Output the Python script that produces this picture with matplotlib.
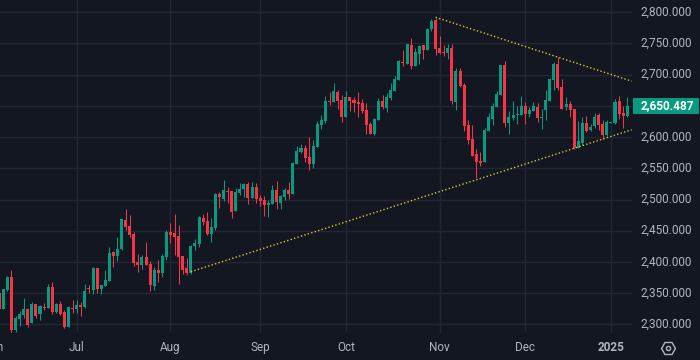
import numpy as np
import matplotlib
matplotlib.use("Agg")
import matplotlib.pyplot as plt
from matplotlib.lines import Line2D
from matplotlib.patches import Rectangle
from matplotlib.transforms import ScaledTranslation

opens = [2350.0, 2324.8, 2354.8, 2376.2, 2291.0, 2308.7, 2315.1, 2324.8, 2302.3, 2332.8,
         2316.7, 2328.0, 2326.4, 2360.1, 2319.9, 2332.8, 2319.9, 2295.8, 2326.4, 2324.8,
         2331.2, 2328.0, 2356.9, 2355.3, 2390.7, 2356.9, 2361.8, 2369.8, 2416.4, 2410.0,
         2421.2, 2467.9, 2458.2, 2445.4, 2400.3, 2395.5, 2408.4, 2397.1, 2361.8, 2387.5,
         2382.7, 2408.4, 2448.6, 2447.0, 2442.2, 2410.0, 2390.7, 2382.7, 2426.1, 2429.3,
         2471.1, 2466.3, 2445.4, 2455.0, 2508.1, 2501.6, 2512.9, 2512.9, 2481.9, 2510.3,
         2517.3, 2525.3, 2502.8, 2520.5, 2502.8, 2499.6, 2491.5, 2493.1, 2515.7, 2494.8,
         2504.4, 2515.7, 2509.2, 2557.5, 2576.8, 2583.2, 2568.7, 2557.5, 2584.8, 2620.2,
         2626.6, 2657.2, 2655.6, 2671.6, 2658.8, 2633.0, 2663.6, 2658.8, 2655.6, 2653.9,
         2642.7, 2621.8, 2605.7, 2628.2, 2657.2, 2645.9, 2662.0, 2673.2, 2690.9, 2720.1,
         2716.9, 2747.4, 2713.7, 2733.0, 2747.4, 2739.4, 2773.2, 2787.6, 2742.6, 2736.2,
         2734.6, 2742.6, 2655.8, 2705.6, 2683.1, 2618.8, 2596.3, 2572.2, 2562.5, 2560.9,
         2609.2, 2628.4, 2647.7, 2667.0, 2715.3, 2622.0, 2630.1, 2634.9, 2634.9, 2649.4,
         2636.5, 2641.3, 2647.7, 2630.6, 2642.9, 2657.4, 2691.2, 2716.9, 2679.9, 2647.7,
         2652.6, 2644.5, 2581.8, 2589.9, 2622.0, 2610.8, 2617.2, 2634.9, 2620.4, 2602.7,
         2622.0, 2622.0, 2657.4, 2638.1, 2633.3]
highs = [2352.6, 2356.9, 2377.8, 2387.5, 2313.5, 2321.6, 2342.5, 2326.4, 2336.0, 2332.8,
         2331.2, 2334.4, 2365.0, 2368.2, 2334.4, 2337.6, 2323.2, 2329.6, 2339.2, 2339.2,
         2336.0, 2365.0, 2363.4, 2392.3, 2390.7, 2363.4, 2387.5, 2424.5, 2418.0, 2440.5,
         2469.5, 2484.0, 2475.9, 2448.6, 2413.2, 2411.6, 2432.5, 2402.0, 2392.3, 2403.6,
         2413.2, 2451.8, 2463.1, 2477.5, 2459.8, 2410.0, 2406.8, 2427.7, 2437.3, 2474.3,
         2477.5, 2480.7, 2471.1, 2509.7, 2511.3, 2531.7, 2520.5, 2514.1, 2518.9, 2526.9,
         2526.9, 2528.5, 2528.5, 2526.9, 2507.6, 2506.0, 2499.6, 2523.7, 2530.1, 2507.6,
         2518.9, 2528.5, 2560.7, 2586.4, 2589.6, 2588.0, 2600.9, 2596.1, 2626.6, 2634.7,
         2665.2, 2671.6, 2686.1, 2674.9, 2666.8, 2673.2, 2663.6, 2663.6, 2671.6, 2660.4,
         2653.9, 2625.0, 2631.4, 2662.0, 2666.8, 2670.0, 2686.1, 2697.4, 2723.1, 2739.4,
         2749.0, 2758.7, 2742.6, 2747.4, 2747.4, 2774.8, 2789.2, 2790.9, 2761.9, 2747.4,
         2749.0, 2749.0, 2710.5, 2710.5, 2686.3, 2626.8, 2618.8, 2580.2, 2575.4, 2614.0,
         2638.1, 2654.2, 2673.5, 2715.3, 2721.7, 2641.3, 2657.4, 2649.4, 2665.4, 2655.8,
         2647.7, 2655.8, 2654.2, 2644.5, 2675.1, 2694.4, 2720.1, 2728.1, 2692.8, 2663.8,
         2657.4, 2644.5, 2625.2, 2631.7, 2633.3, 2620.4, 2638.1, 2638.1, 2626.8, 2626.8,
         2623.6, 2660.6, 2665.4, 2649.4, 2663.8]
lows = [2324.8, 2324.8, 2353.7, 2286.7, 2288.3, 2297.4, 2310.3, 2295.8, 2302.3, 2310.3,
        2307.1, 2323.2, 2326.4, 2316.7, 2318.3, 2315.1, 2294.2, 2295.8, 2318.3, 2318.3,
        2313.5, 2326.4, 2350.5, 2348.9, 2350.5, 2348.9, 2361.8, 2369.8, 2392.3, 2402.0,
        2419.6, 2451.8, 2440.5, 2393.9, 2384.3, 2389.1, 2395.5, 2353.7, 2355.3, 2368.2,
        2376.2, 2403.6, 2430.9, 2411.6, 2365.0, 2381.0, 2379.4, 2381.0, 2419.6, 2424.5,
        2459.8, 2443.8, 2432.5, 2451.8, 2485.6, 2498.0, 2494.8, 2470.6, 2481.9, 2507.6,
        2504.4, 2493.1, 2502.8, 2494.8, 2489.9, 2473.9, 2472.2, 2493.1, 2485.1, 2485.1,
        2499.6, 2501.2, 2509.2, 2557.5, 2575.2, 2560.7, 2547.8, 2551.0, 2584.8, 2613.7,
        2623.4, 2650.7, 2655.6, 2644.3, 2625.0, 2633.0, 2641.1, 2639.5, 2633.0, 2637.9,
        2605.7, 2605.7, 2604.1, 2628.2, 2644.3, 2639.5, 2658.8, 2673.2, 2690.9, 2713.7,
        2716.9, 2708.8, 2713.7, 2716.9, 2724.9, 2739.4, 2770.0, 2731.4, 2733.0, 2729.8,
        2724.9, 2652.6, 2642.9, 2679.9, 2609.2, 2588.2, 2569.0, 2535.2, 2552.9, 2560.9,
        2609.2, 2618.8, 2647.7, 2667.0, 2615.6, 2604.3, 2626.8, 2620.4, 2634.9, 2620.4,
        2631.7, 2641.3, 2623.6, 2612.4, 2626.8, 2657.4, 2675.1, 2675.1, 2644.5, 2642.9,
        2631.7, 2580.2, 2581.8, 2586.6, 2607.5, 2609.2, 2614.0, 2610.8, 2596.3, 2601.1,
        2622.0, 2620.4, 2628.4, 2614.0, 2631.7]
closes = [2324.8, 2356.9, 2376.2, 2291.0, 2310.3, 2316.7, 2324.8, 2299.0, 2332.8, 2313.5,
          2329.6, 2326.4, 2360.1, 2319.9, 2332.8, 2316.7, 2295.8, 2328.0, 2325.3, 2331.2,
          2328.0, 2353.7, 2355.9, 2390.7, 2356.9, 2363.4, 2371.4, 2414.8, 2410.0, 2421.2,
          2469.5, 2456.6, 2443.8, 2398.7, 2395.5, 2408.4, 2395.5, 2363.4, 2387.5, 2382.7,
          2410.0, 2448.6, 2443.8, 2440.5, 2408.4, 2387.5, 2382.7, 2426.1, 2430.9, 2472.7,
          2464.7, 2445.4, 2456.6, 2508.1, 2503.3, 2514.5, 2511.8, 2480.7, 2512.4, 2517.3,
          2525.3, 2502.8, 2520.5, 2501.2, 2498.0, 2491.5, 2494.8, 2515.7, 2496.4, 2506.0,
          2515.7, 2509.2, 2559.1, 2578.4, 2583.2, 2567.1, 2557.5, 2586.4, 2621.8, 2628.2,
          2657.2, 2656.1, 2673.2, 2657.2, 2633.0, 2663.6, 2657.2, 2653.9, 2652.3, 2641.1,
          2620.2, 2605.7, 2629.8, 2657.2, 2647.5, 2663.6, 2674.9, 2692.5, 2721.5, 2718.5,
          2749.0, 2713.7, 2736.2, 2745.8, 2739.4, 2773.2, 2786.0, 2741.0, 2734.6, 2734.6,
          2742.6, 2657.4, 2705.6, 2681.5, 2617.2, 2594.7, 2569.0, 2560.9, 2559.3, 2610.8,
          2631.7, 2649.4, 2668.6, 2715.3, 2622.0, 2631.7, 2634.9, 2636.5, 2649.4, 2636.5,
          2642.9, 2649.4, 2630.1, 2631.7, 2659.0, 2692.8, 2716.9, 2678.3, 2644.5, 2652.6,
          2642.9, 2581.8, 2593.1, 2622.0, 2609.2, 2615.6, 2631.7, 2618.8, 2602.7, 2623.6,
          2623.6, 2655.8, 2636.5, 2633.3, 2650.487]

month_pos = [19, 42, 64, 85, 108, 129, 150]
month_labels = ["Jul", "Aug", "Sep", "Oct", "Nov", "Dec", "2025"]
cut_label = "Jun"
cut_label_pos = -1.3
price_ticks = [2300, 2350, 2400, 2450, 2500, 2550, 2600, 2650, 2700, 2750, 2800]

# trendlines, bar index and price of each end
upper_x = [107, 155.1]
upper_y = [2792.0, 2689.6]
lower_x = [47, 155.1]
lower_y = [2384.3, 2611.8]

BG = "#131722"
GRID = "#232733"
UP = "#089981"
DOWN = "#f23645"
TEXT = "#b2b5be"
TREND = "#d6c83c"

plt.rcParams["font.family"] = "Roboto"

o = np.array(opens)
h = np.array(highs)
l = np.array(lows)
c = np.array(closes)
xs = np.arange(len(o))
colors = [UP if c[i] >= o[i] else DOWN for i in xs]

fig = plt.figure(figsize=(7, 3.6), dpi=100, facecolor=BG)
ax = fig.add_axes([0, 27 / 360, 632 / 700, 333 / 360], facecolor=BG)

wicks = ax.vlines(xs, l, h, colors=colors, linewidth=0.75, zorder=3)
wicks.set_snap(True)
ax.bar(xs, np.maximum(np.abs(c - o), 1.6), bottom=np.minimum(o, c), width=0.74,
       color=colors, linewidth=0, zorder=4)

ax.plot(upper_x, upper_y, color=TREND, linewidth=1, linestyle=(0, (1, 1.6)), zorder=5)
ax.plot(lower_x, lower_y, color=TREND, linewidth=1, linestyle=(0, (1, 1.6)), zorder=5)

ax.set_xlim(0.19, 155.17)
ax.set_ylim(2286.1, 2819.7)
ax.set_xticks(month_pos)
ax.set_xticklabels(month_labels)
ax.set_yticks(price_ticks)
# the 2,650 label sits behind the last price tag, so it is left blank
ax.set_yticklabels(["" if p == 2650 else f"{p:,.3f}" for p in price_ticks])
ax.yaxis.tick_right()
ax.grid(True, color=GRID, linewidth=1)
ax.set_axisbelow(True)
ax.tick_params(axis="both", length=0, colors=TEXT, labelsize=8.5)
ax.tick_params(axis="x", pad=6)
ax.tick_params(axis="y", pad=6)
ax.get_xticklabels()[-1].set_fontweight("bold")
for s in ax.spines.values():
    s.set_visible(False)

# tick labels sit a bit above their gridlines
up_shift = ScaledTranslation(0, 1.5 / 100, fig.dpi_scale_trans)
for t in ax.get_yticklabels():
    t.set_transform(t.get_transform() + up_shift)

# month label cut by the left edge
x_ticks_y = ax.get_xaxis_transform()
ax.annotate(cut_label, xy=(cut_label_pos, 0), xycoords=x_ticks_y, xytext=(0, -6),
            textcoords="offset points", ha="center", va="top", color=TEXT,
            fontsize=8.5, annotation_clip=False)

# last price tag
last = closes[-1]
trans = ax.get_yaxis_transform()
ax.add_patch(Rectangle((1.002, last - 12.8), 66 / 632, 25.6, transform=trans,
                       facecolor=UP, edgecolor="none", clip_on=False, zorder=6))
ax.text(1.0555, last, f"{last:,.3f}", transform=trans, color="white", fontsize=8.5,
        fontweight="bold", ha="center", va="center", clip_on=False, zorder=7)

# settings icon bottom right
fig.add_artist(Line2D([668 / 700], [1 - 348 / 360], marker="H", markersize=10,
                      markerfacecolor="none", markeredgecolor=TEXT, markeredgewidth=1))
fig.add_artist(Line2D([668 / 700], [1 - 348 / 360], marker="o", markersize=3,
                      markerfacecolor="none", markeredgecolor=TEXT, markeredgewidth=1))

fig.savefig("out.png", dpi=100, facecolor=BG)
